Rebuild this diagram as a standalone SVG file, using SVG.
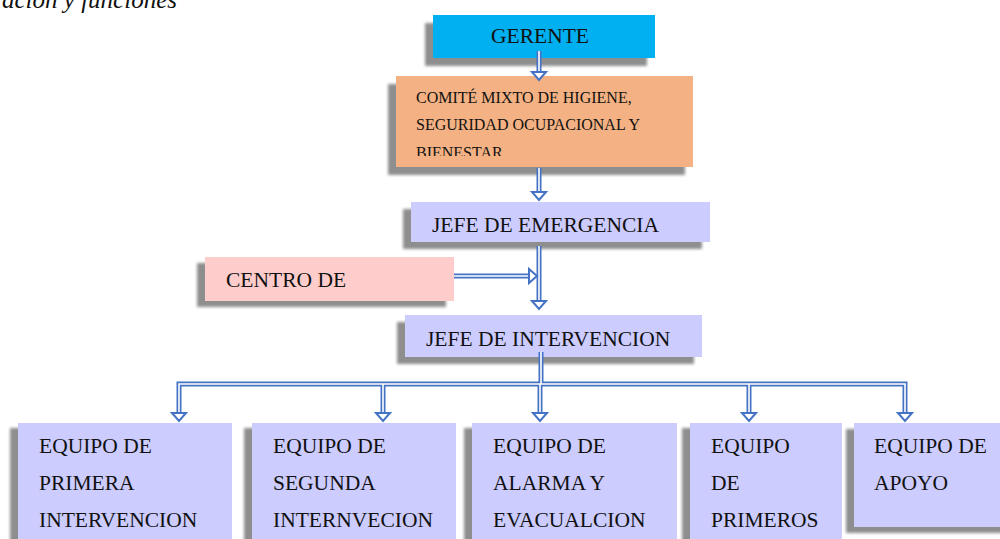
<svg xmlns="http://www.w3.org/2000/svg" width="1000" height="539" viewBox="0 0 1000 539">
<style>
.t{font-family:"Liberation Serif","Times New Roman",serif;font-size:21.5px;fill:#111}
.ts{font-family:"Liberation Serif","Times New Roman",serif;font-size:16px;fill:#111}
.sh{fill:#8e8e8e;filter:url(#blur)}
.lav{fill:#ccccff}
.ol{fill:none;stroke:#4472c4;stroke-width:5}
.il{fill:none;stroke:#ffffff;stroke-width:1.6}
.hd{fill:#ffffff;stroke:#4472c4;stroke-width:2;stroke-linejoin:miter}
</style>
<defs>
<filter id="blur" x="-10%" y="-30%" width="120%" height="160%"><feGaussianBlur stdDeviation="1.6"/></filter>
<polygon id="ah" points="-7,-8 7,-8 0,0"/>
<clipPath id="cc"><rect x="396" y="76" width="297" height="80"/></clipPath>
</defs>
<rect width="1000" height="539" fill="#ffffff"/>
<text x="2" y="8" font-family="Liberation Serif,'Times New Roman',serif" font-style="italic" font-size="25" fill="#111">ación y funciones</text>

<g id="gerente">
<rect class="sh" x="425" y="23" width="222" height="43"/>
<rect x="433" y="15" width="222" height="43" fill="#00b0f0"/>
<text class="t" x="491" y="43">GERENTE</text>
</g>

<g id="comite">
<rect class="sh" x="388" y="84" width="297" height="91"/>
<rect x="396" y="76" width="297" height="91" fill="#f4b183"/>
<g clip-path="url(#cc)">
<text class="ts" x="416" y="103">COMITÉ MIXTO DE HIGIENE,</text>
<text class="ts" x="416" y="130">SEGURIDAD OCUPACIONAL Y</text>
<text class="ts" x="416" y="158">BIENESTAR</text>
</g>
</g>

<g id="jefe-emergencia">
<rect class="sh" x="403" y="209" width="299" height="40"/>
<rect class="lav" x="411" y="202" width="299" height="40"/>
<text class="t" x="432" y="232">JEFE DE EMERGENCIA</text>
</g>

<g id="centro">
<rect class="sh" x="197" y="263" width="249" height="44"/>
<rect x="205" y="257" width="249" height="44" fill="#ffcccc"/>
<text class="t" x="226" y="287">CENTRO DE</text>
</g>

<g id="jefe-intervencion">
<rect class="sh" x="397" y="322" width="297" height="42"/>
<rect class="lav" x="405" y="315" width="297" height="42"/>
<text class="t" x="426" y="346">JEFE DE INTERVENCION</text>
</g>

<g id="equipo-1">
<rect class="sh" x="10" y="428" width="214" height="130"/>
<rect class="lav" x="18" y="423" width="214" height="130"/>
<text class="t" x="39" y="453">EQUIPO DE</text>
<text class="t" x="39" y="490">PRIMERA</text>
<text class="t" x="39" y="527">INTERVENCION</text>
</g>

<g id="equipo-2">
<rect class="sh" x="244" y="428" width="204" height="130"/>
<rect class="lav" x="252" y="423" width="204" height="130"/>
<text class="t" x="273" y="453">EQUIPO DE</text>
<text class="t" x="273" y="490">SEGUNDA</text>
<text class="t" x="273" y="527">INTERNVECION</text>
</g>

<g id="equipo-3">
<rect class="sh" x="464" y="428" width="205" height="130"/>
<rect class="lav" x="472" y="423" width="205" height="130"/>
<text class="t" x="493" y="453">EQUIPO DE</text>
<text class="t" x="493" y="490">ALARMA Y</text>
<text class="t" x="493" y="527">EVACUALCION</text>
</g>

<g id="equipo-4">
<rect class="sh" x="682" y="428" width="152" height="130"/>
<rect class="lav" x="690" y="423" width="152" height="130"/>
<text class="t" x="711" y="453">EQUIPO</text>
<text class="t" x="711" y="490">DE</text>
<text class="t" x="711" y="527">PRIMEROS</text>
</g>

<g id="equipo-5">
<rect class="sh" x="846" y="429" width="170" height="104"/>
<rect class="lav" x="854" y="423" width="160" height="104"/>
<text class="t" x="874" y="453">EQUIPO DE</text>
<text class="t" x="874" y="490">APOYO</text>
</g>

<g id="connectors">
<path class="ol" d="M539,51V73 M539,168V193 M539,246V302 M454,276H530 M541,352V384 M179,414V384H905V414 M383,384V414 M540,384V414 M749,384V414"/>
<path class="il" d="M539,51V73 M539,168V193 M539,246V302 M454,276H530 M541,352V384 M179,414V384H905V414 M383,384V414 M540,384V414 M749,384V414"/>
<use href="#ah" class="hd" transform="translate(539,80)"/>
<use href="#ah" class="hd" transform="translate(539,200)"/>
<use href="#ah" class="hd" transform="translate(539,309)"/>
<use href="#ah" class="hd" transform="translate(537,276) rotate(-90)"/>
<use href="#ah" class="hd" transform="translate(179,421)"/>
<use href="#ah" class="hd" transform="translate(383,421)"/>
<use href="#ah" class="hd" transform="translate(540,421)"/>
<use href="#ah" class="hd" transform="translate(749,421)"/>
<use href="#ah" class="hd" transform="translate(905,421)"/>
</g>
</svg>
